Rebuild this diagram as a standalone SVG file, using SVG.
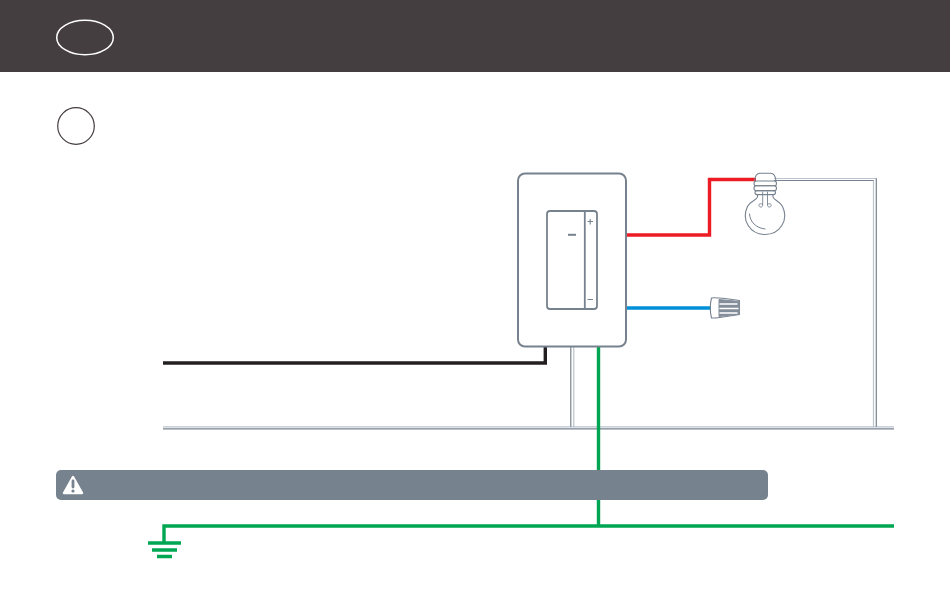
<svg xmlns="http://www.w3.org/2000/svg" width="950" height="615" viewBox="0 0 950 615">
<style>
.s{fill:none;stroke:#77828f;stroke-linecap:round;stroke-linejoin:round}
.lt{fill:none;stroke:#bcc3cb;stroke-width:1.2}
.dk{fill:none;stroke:#77828f;stroke-width:1.2}
.w{fill:none;stroke-width:3.4}
.g{stroke:#00a651}
</style>
<rect width="950" height="615" fill="#fff"/>
<rect id="header" width="950" height="72" fill="#453e41"/>
<g id="badge-header"><ellipse cx="85" cy="37.500" rx="28.300" ry="17.300" fill="none" stroke="#fff" stroke-width="1.500"/></g>
<g id="badge-step"><circle cx="76" cy="126" r="18.300" fill="#fff" stroke="#453e41" stroke-width="1.200"/></g>
<g id="connectors">
<path class="lt" d="M163 426.800H894M573.800 347V426.800M873.500 180V426.800M774 178.500H877"/>
<path class="dk" d="M163 428.800H894M570.800 347V426.800M876.300 178.500V426.800M774 180.500H873.500"/>
<path class="w" stroke="#231f20" d="M163 363H545.300V347"/>
<path class="w" stroke="#ed1c24" d="M626 235H709.500V179.500H756"/>
<path class="w" stroke="#0090d9" d="M626 308H711"/>
<path class="w g" d="M598.500 347V526"/>
<path class="w g" d="M894 526H164V544"/>
<path class="w g" d="M148 543H181M152 550H177M157 556.500H172"/>
</g>
<g id="warning">
<rect x="56" y="470" width="712" height="30" rx="5" fill="#77828f"/>
<path d="M73 477L82 493H64Z" fill="#fff" stroke="#fff" stroke-width="2.500" stroke-linejoin="round"/>
<path d="M73 481V487" stroke="#77828f" stroke-width="2.800" stroke-linecap="round"/>
<circle cx="73" cy="491" r="1.600" fill="#77828f"/>
</g>
<g id="dimmer">
<rect x="518" y="173.500" width="108" height="173" rx="7" fill="#fff" stroke="#77828f" stroke-width="2"/>
<rect x="547" y="211" width="50" height="98" rx="3" fill="#fff" stroke="#77828f" stroke-width="1.800"/>
<path d="M584.800 211V309" stroke="#77828f" stroke-width="1.800"/>
<path d="M568 234.800H576" stroke="#77828f" stroke-width="2"/>
<path d="M587.500 221.500H593M590.200 219V224.500M587.500 299.500H593" stroke="#77828f" stroke-width="1.100"/>
</g>
<g id="bulb">
<path class="s" stroke-width="1.100" fill="#fff" d="M754.500 181C755 176 757 173.300 760 173.300H770.500C773.500 173.300 775.500 176 776 181"/>
<rect class="s" stroke-width="1.100" x="754" y="181" width="22.500" height="4.800" rx="2.400" fill="#fff"/>
<rect class="s" stroke-width="1.100" x="754" y="185.800" width="22.500" height="4.800" rx="2.400" fill="#fff"/>
<rect class="s" stroke-width="1.100" x="755" y="190.600" width="20.500" height="4" rx="2" fill="#fff"/>
<path class="s" stroke-width="1.100" d="M757.500 195V197C757 200 750 201 747.500 206.500C741 220 750 234.500 765 234.500C780 234.500 789 220 782.500 206.500C780 201 773.500 200 773 197V195"/>
<path class="s" stroke-width="0.900" d="M762.700 192V205C762.700 207.500 759.500 207.800 759 205.500C758.700 203.500 761 203 762.700 204.500M767.500 192V205C767.500 207.500 770.800 207.800 771.200 205.500C771.500 203.500 769.200 203 767.500 204.500"/>
<path class="s" stroke-width="1" d="M749.500 214C750 222 756 228 765 229"/>
</g>
<g id="wire-nut">
<path class="s" stroke-width="1.100" fill="#fff" d="M711.500 298C716 297 722 298 739.500 300.500V314.500C722 317 716 318.500 711.500 318C710 312 710 304 711.500 298Z"/>
<path d="M719 299.500L739.500 301.500V314L719 316.500Z" fill="#848e9a" stroke="#848e9a" stroke-linejoin="round"/>
<path d="M720 304H737M720 308.500H738M720 313H737" stroke="#fff" stroke-width="1.400" stroke-linecap="round"/>
</g>
</svg>
